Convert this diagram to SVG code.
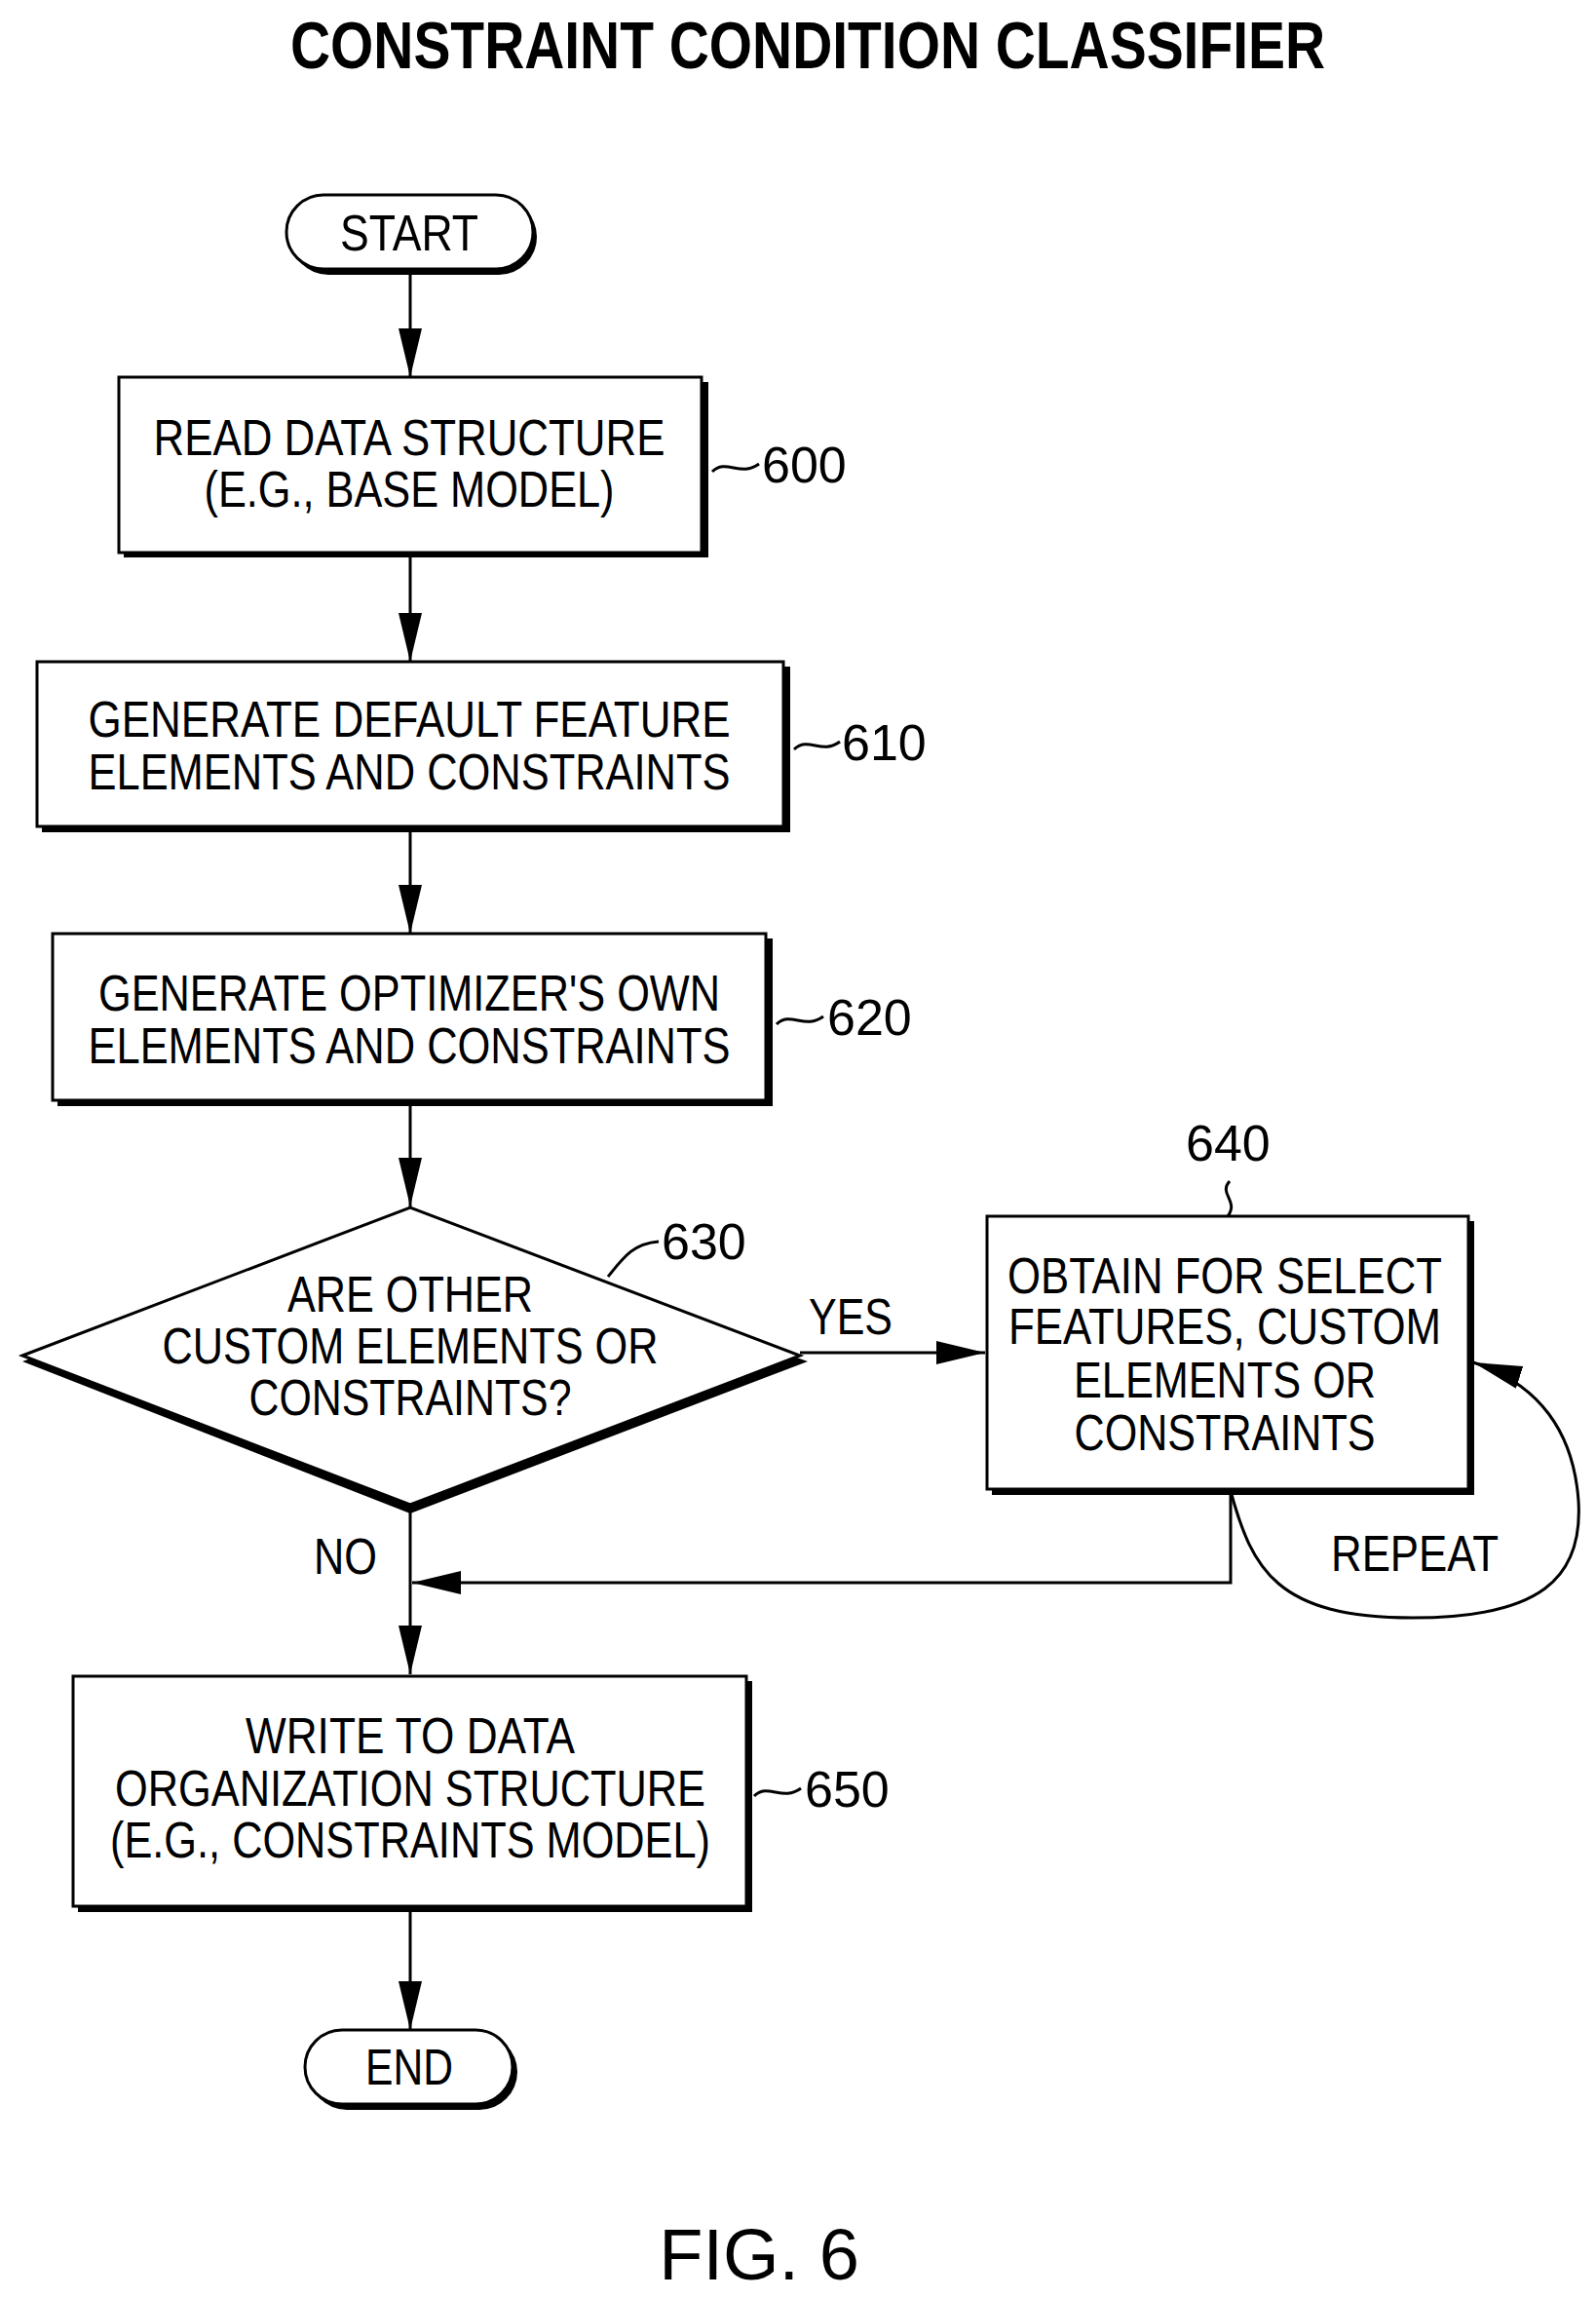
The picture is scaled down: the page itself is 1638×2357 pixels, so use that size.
<svg xmlns="http://www.w3.org/2000/svg" width="1638" height="2357" viewBox="0 0 1638 2357">
<style>
.t{font-family:"Liberation Sans",Arial,sans-serif;font-size:52px;fill:#000;text-anchor:middle}
.l{font-family:"Liberation Sans",Arial,sans-serif;font-size:52px;fill:#000}
.b{fill:#fff;stroke:#000;stroke-width:3}
.s{fill:#000}
.c{fill:none;stroke:#000;stroke-width:3}
</style>
<defs>
<marker id="ah" markerUnits="userSpaceOnUse" markerWidth="50" markerHeight="24" refX="50" refY="12" orient="auto">
<path d="M0,0 L50,12 L0,24 Z" fill="#000"/>
</marker>
</defs>
<rect width="1638" height="2357" fill="#fff"/>
<text x="829" y="70" style="font-family:'Liberation Sans',Arial,sans-serif;font-size:68px;font-weight:bold;text-anchor:middle" textLength="1062" lengthAdjust="spacingAndGlyphs">CONSTRAINT CONDITION CLASSIFIER</text>

<g id="connectors">
<line class="c" x1="421" y1="279" x2="421" y2="387" marker-end="url(#ah)"/>
<line class="c" x1="421" y1="570" x2="421" y2="679" marker-end="url(#ah)"/>
<line class="c" x1="421" y1="852" x2="421" y2="958" marker-end="url(#ah)"/>
<line class="c" x1="421" y1="1133" x2="421" y2="1238" marker-end="url(#ah)"/>
<line class="c" x1="821" y1="1388" x2="1011" y2="1388" marker-end="url(#ah)"/>
<line class="c" x1="421" y1="1544" x2="421" y2="1718" marker-end="url(#ah)"/>
<polyline class="c" points="1263,1530 1263,1624 423,1624" marker-end="url(#ah)"/>
<path class="c" d="M1263,1530 C1285,1610 1310,1660 1450,1660 C1580,1660 1625,1620 1620,1540 C1615,1470 1580,1420 1512,1398" marker-end="url(#ah)"/>
<line class="c" x1="421" y1="1960" x2="421" y2="2083" marker-end="url(#ah)"/>
<text class="l" x="830" y="1369" textLength="86" lengthAdjust="spacingAndGlyphs">YES</text>
<text class="l" x="322" y="1615" textLength="65" lengthAdjust="spacingAndGlyphs">NO</text>
<text class="l" x="1366" y="1612" textLength="172" lengthAdjust="spacingAndGlyphs">REPEAT</text>
</g>

<g id="start">
<rect class="s" x="298" y="204" width="253" height="78" rx="39"/>
<rect class="b" x="294" y="200" width="253" height="76" rx="38"/>
<text class="t" x="420" y="257" textLength="142" lengthAdjust="spacingAndGlyphs">START</text>
</g>

<g id="n600">
<rect class="s" x="127" y="392" width="600" height="180"/>
<rect class="b" x="122" y="387" width="598" height="180"/>
<text class="t" x="420" y="467" textLength="525" lengthAdjust="spacingAndGlyphs">READ DATA STRUCTURE</text>
<text class="t" x="420" y="520" textLength="421" lengthAdjust="spacingAndGlyphs">(E.G., BASE MODEL)</text>
<path class="c" d="M731,484 C745,470 760,490 779,476"/>
<text class="l" x="782" y="495">600</text>
</g>

<g id="n610">
<rect class="s" x="43" y="684" width="768" height="170"/>
<rect class="b" x="38" y="679" width="766" height="169"/>
<text class="t" x="420" y="756" textLength="659" lengthAdjust="spacingAndGlyphs">GENERATE DEFAULT FEATURE</text>
<text class="t" x="420" y="810" textLength="659" lengthAdjust="spacingAndGlyphs">ELEMENTS AND CONSTRAINTS</text>
<path class="c" d="M815,769 C829,755 844,775 862,761"/>
<text class="l" x="864" y="780">610</text>
</g>

<g id="n620">
<rect class="s" x="59" y="963" width="734" height="172"/>
<rect class="b" x="54" y="958" width="732" height="171"/>
<text class="t" x="420" y="1037" textLength="638" lengthAdjust="spacingAndGlyphs">GENERATE OPTIMIZER'S OWN</text>
<text class="t" x="420" y="1091" textLength="659" lengthAdjust="spacingAndGlyphs">ELEMENTS AND CONSTRAINTS</text>
<path class="c" d="M797,1051 C811,1037 826,1057 845,1043"/>
<text class="l" x="849" y="1062">620</text>
</g>

<g id="n630">
<polygon class="s" points="23,1397 421,1252 829,1397 421,1553"/>
<polygon class="b" points="23,1391 421,1239 821,1391 421,1544"/>
<text class="t" x="421" y="1346" textLength="252" lengthAdjust="spacingAndGlyphs">ARE OTHER</text>
<text class="t" x="421" y="1399" textLength="509" lengthAdjust="spacingAndGlyphs">CUSTOM ELEMENTS OR</text>
<text class="t" x="421" y="1452" textLength="331" lengthAdjust="spacingAndGlyphs">CONSTRAINTS?</text>
<path class="c" d="M624,1310 C640,1290 650,1276 676,1274"/>
<text class="l" x="679" y="1292">630</text>
</g>

<g id="n640">
<rect class="s" x="1018" y="1253" width="495" height="281"/>
<rect class="b" x="1013" y="1248" width="494" height="280"/>
<text class="t" x="1257" y="1327" textLength="446" lengthAdjust="spacingAndGlyphs">OBTAIN FOR SELECT</text>
<text class="t" x="1257" y="1379" textLength="444" lengthAdjust="spacingAndGlyphs">FEATURES, CUSTOM</text>
<text class="t" x="1257" y="1434" textLength="310" lengthAdjust="spacingAndGlyphs">ELEMENTS OR</text>
<text class="t" x="1257" y="1488" textLength="309" lengthAdjust="spacingAndGlyphs">CONSTRAINTS</text>
<path class="c" d="M1262,1212 C1250,1225 1272,1232 1260,1248"/>
<text class="l" x="1217" y="1191">640</text>
</g>

<g id="n650">
<rect class="s" x="80" y="1725" width="692" height="237"/>
<rect class="b" x="75" y="1720" width="691" height="236"/>
<text class="t" x="421" y="1799" textLength="338" lengthAdjust="spacingAndGlyphs">WRITE TO DATA</text>
<text class="t" x="421" y="1853" textLength="606" lengthAdjust="spacingAndGlyphs">ORGANIZATION STRUCTURE</text>
<text class="t" x="421" y="1906" textLength="616" lengthAdjust="spacingAndGlyphs">(E.G., CONSTRAINTS MODEL)</text>
<path class="c" d="M774,1843 C788,1829 803,1849 822,1835"/>
<text class="l" x="826" y="1854">650</text>
</g>

<g id="end">
<rect class="s" x="317" y="2087" width="214" height="78" rx="39"/>
<rect class="b" x="313" y="2083" width="213" height="76" rx="38"/>
<text class="t" x="420" y="2139" textLength="90" lengthAdjust="spacingAndGlyphs">END</text>
</g>

<text x="779" y="2339" style="font-family:'Liberation Sans',Arial,sans-serif;font-size:74px;text-anchor:middle">FIG. 6</text>
</svg>
